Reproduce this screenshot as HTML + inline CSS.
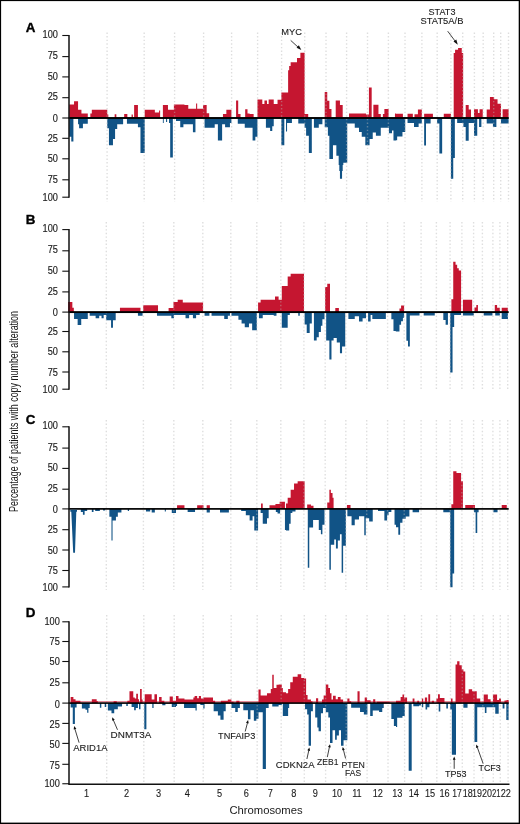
<!DOCTYPE html>
<html><head><meta charset="utf-8"><style>
html,body{margin:0;padding:0;background:#fff;}
body{width:520px;height:824px;overflow:hidden;}
svg{display:block;will-change:transform;}
text{font-family:"Liberation Sans",sans-serif;fill:#1a1a1a;}
.tk{font-size:10px;text-anchor:end;stroke:#1a1a1a;stroke-width:0.15px;}
.pl{font-size:13.4px;font-weight:bold;fill:#000;stroke:#000;stroke-width:0.35px;}
.g{stroke:#b8b8b8;stroke-width:1.4;stroke-dasharray:1.4 2.2;opacity:0.45;}
.ann{font-size:9.6px;stroke:#1a1a1a;stroke-width:0.1px;}
.cl{font-size:10px;text-anchor:middle;stroke:#1a1a1a;stroke-width:0.1px;}
</style></head><body>
<svg width="520" height="824" viewBox="0 0 520 824">
<rect x="0" y="0" width="520" height="824" fill="#fff"/>
<path fill="#c51630" d="M69.17,118L69.17,104.47L74.04,104.47L74.04,101.29L78.06,101.29L78.06,109.75L81.44,109.75L81.44,113.56L87.79,113.56L87.79,118Z M90.33,118L90.33,113.56L91.81,113.56L91.81,109.75L107.25,109.75L107.25,114.62L108.31,114.62L108.31,118Z M114.66,118L114.66,114.2L116.35,114.2L116.35,118Z M124.18,118L124.18,113.99L127.35,113.99L127.35,118Z M131.58,118L131.58,114.62L132.85,114.62L132.85,118Z M134.12,118L134.12,105.1L137.93,105.1L137.93,118Z M144.7,118L144.7,109.75L154.85,109.75L154.85,112.5L159.08,112.5L159.08,110.39L160.14,110.39L160.14,118Z M162.89,118L162.89,105.1L167.97,105.1L167.97,109.75L173.89,109.75L173.89,104.47L176.01,104.47L176.01,104.47L184.46,104.47L184.46,105.1L188.27,105.1L188.27,108.7L196.1,108.7L196.1,103.62L197.16,103.62L197.16,108.7L203.08,108.7L203.08,105.1L206.67,105.1L206.67,113.14L209.21,113.14L209.21,118Z M222.96,118L222.96,113.99L226.35,113.99L226.35,109.75L231.43,109.75L231.43,118Z M236.08,118L236.08,100.45L238.2,100.45L238.2,113.99L240.52,113.99L240.52,118Z M245.18,118L245.18,109.33L247.5,109.33L247.5,113.56L249.62,113.56L249.62,113.99L253.64,113.99L253.64,118Z M257.45,118L257.45,99.39L262.31,99.39L262.31,104.04L264.43,104.04L264.43,100.45L266.97,100.45L266.97,104.04L268.66,104.04L268.66,99.39L273.74,99.39L273.74,104.04L277.54,104.04L277.54,99.81L281.35,99.81L281.35,92.41L286.01,92.41L286.01,92.41L288.12,92.41L288.12,70.19L289.17,70.19L289.17,65.96L290.65,65.96L290.65,62.16L297,62.16L297,57.92L300.39,57.92L300.39,52.85L304.62,52.85L304.62,113.99L308.21,113.99L308.21,118Z M324.71,118L324.71,91.98L327.25,91.98L327.25,100.87L329.37,100.87L329.37,108.91L331.48,108.91L331.48,118Z M335.71,118L335.71,100.45L339.95,100.45L339.95,105.1L342.7,105.1L342.7,118Z M349.04,118L349.04,113.56L365.97,113.56L365.97,114.62L368.93,114.62L368.93,87.54L371.68,87.54L371.68,118Z M373.37,118L373.37,104.68L378.45,104.68L378.45,113.99L380.77,113.99L380.77,118Z M382.89,118L382.89,113.99L384.37,113.99L384.37,108.91L388.6,108.91L388.6,118Z M394.95,118L394.95,113.56L396.01,113.56L396.01,113.78L402.92,113.78L402.92,118Z M407.54,118L407.54,113.78L412.85,113.78L412.85,118Z M414.46,118L414.46,114.24L417.92,114.24L417.92,109.62L421.85,109.62L421.85,118Z M424.16,118L424.16,113.78L432.93,113.78L432.93,118Z M443.77,118L443.77,113.78L450.93,113.78L450.93,118Z M453.7,118L453.7,53.08L455.08,53.08L455.08,49.85L458.08,49.85L458.08,48L461.77,48L461.77,53.08L463.16,53.08L463.16,118Z M465.7,118L465.7,105.01L468.7,105.01L468.7,109.62L471.01,109.62L471.01,118Z M474.01,118L474.01,109.16L477.93,109.16L477.93,113.08L479.54,113.08L479.54,109.16L482.78,109.16L482.78,118Z M486.7,118L486.7,109.62L489.93,109.62L489.93,96.93L494.08,96.93L494.08,99.24L497.55,99.24L497.55,103.85L501.01,103.85L501.01,118Z M502.62,118L502.62,109.16L508.62,109.16L508.62,118Z"/>
<path fill="#115386" d="M69.17,118L69.17,136.83L71.29,136.83L71.29,141.49L73.4,141.49L73.4,118Z M78.06,118L78.06,124.14L79.12,124.14L79.12,128.37L82.92,128.37L82.92,123.72L87.79,123.72L87.79,118Z M107.25,118L107.25,128.37L108.94,128.37L108.94,145.3L112.96,145.3L112.96,138.95L115.08,138.95L115.08,129.01L117.2,129.01L117.2,124.14L123.12,124.14L123.12,118Z M126.93,118L126.93,123.72L137.93,123.72L137.93,127.31L140.47,127.31L140.47,153.12L144.7,153.12L144.7,118Z M162.89,118L162.89,123.08L163.74,123.08L163.74,118Z M166.06,118L166.06,122.02L167.12,122.02L167.12,118Z M169.03,118L169.03,123.08L170.19,123.08L170.19,157.57L172.83,157.57L172.83,118Z M176,118L176,120.97L180.23,120.97L180.23,127.31L183.4,127.31L183.4,124.14L192.92,124.14L192.92,132.18L195.46,132.18L195.46,118Z M204.56,118L204.56,127.74L214.71,127.74L214.71,124.14L217.89,124.14L217.89,140.43L222.12,140.43L222.12,124.14L225.08,124.14L225.08,127.31L229.95,127.31L229.95,123.08L231.43,123.08L231.43,118Z M237.77,118L237.77,123.72L244.75,123.72L244.75,127.74L252.58,127.74L252.58,140.43L255.33,140.43L255.33,136.83L257.45,136.83L257.45,118Z M265.91,118L265.91,127.74L270.14,127.74L270.14,131.12L272.26,131.12L272.26,126.26L273.74,126.26L273.74,118Z M281.35,118L281.35,145.3L284.31,145.3L284.31,118Z M286,118L286,131.54L287.06,131.54L287.06,123.08L291.92,123.08L291.92,118Z M298.27,118L298.27,123.51L304.62,123.51L304.62,127.74L306.1,127.74L306.1,135.78L308.85,135.78L308.85,153.12L311.81,153.12L311.81,118Z M313.92,118L313.92,127.74L318.79,127.74L318.79,124.14L322.39,124.14L322.39,118Z M324.71,118L324.71,127.31L327.89,127.31L327.89,135.78L329.37,135.78L329.37,159.05L332.96,159.05L332.96,145.3L336.35,145.3L336.35,155.87L338.68,155.87L338.68,164.97L339.31,164.97L339.31,170.89L339.95,170.89L339.95,178.72L342.06,178.72L342.06,170.89L342.7,170.89L342.7,164.97L343.33,164.97L343.33,162.85L347.24,162.85L347.24,123.51L354.75,123.51L354.75,127.74L358.98,127.74L358.98,131.97L361.74,131.97L361.74,136.83L365.33,136.83L365.33,145.3L369.56,145.3L369.56,138.95L372.74,138.95L372.74,132.6L375.91,132.6L375.91,135.78L380.77,135.78L380.77,127.74L388.92,127.74L388.92,133.24L391.99,133.24L391.99,130.49L393.47,130.49L393.47,140.43L396.01,140.43L396.01,140.32L397.15,140.32L397.15,136.62L402.46,136.62L402.46,132.01L405.23,132.01L405.23,118Z M407.54,118L407.54,123.01L414,123.01L414,126.93L418.62,126.93L418.62,123.47L421.85,123.47L421.85,118Z M424.16,118L424.16,145.39L426,145.39L426,123.47L430.62,123.47L430.62,118Z M437.08,118L437.08,123.47L439.39,123.47L439.39,153.47L442.16,153.47L442.16,118Z M450.93,118L450.93,178.86L453.24,178.86L453.24,158.09L454.85,158.09L454.85,118Z M457.16,118L457.16,123.01L463.39,123.01L463.39,126.93L465.7,126.93L465.7,140.78L468.7,140.78L468.7,123.01L474.01,123.01L474.01,135.7L477.24,135.7L477.24,118Z M479.08,118L479.08,126.93L481.39,126.93L481.39,118Z M486.7,118L486.7,123.47L492.93,123.47L492.93,126.93L496.39,126.93L496.39,118Z M501.01,118L501.01,123.47L508.62,123.47L508.62,118Z"/>
<line x1="107.1" y1="32.5" x2="107.1" y2="202" class="g"/>
<line x1="144.2" y1="32.5" x2="144.2" y2="202" class="g"/>
<line x1="174.6" y1="32.5" x2="174.6" y2="202" class="g"/>
<line x1="203.6" y1="32.5" x2="203.6" y2="202" class="g"/>
<line x1="231.6" y1="32.5" x2="231.6" y2="202" class="g"/>
<line x1="257.6" y1="32.5" x2="257.6" y2="202" class="g"/>
<line x1="281.6" y1="32.5" x2="281.6" y2="202" class="g"/>
<line x1="304.7" y1="32.5" x2="304.7" y2="202" class="g"/>
<line x1="326" y1="32.5" x2="326" y2="202" class="g"/>
<line x1="346.6" y1="32.5" x2="346.6" y2="202" class="g"/>
<line x1="367.5" y1="32.5" x2="367.5" y2="202" class="g"/>
<line x1="388.4" y1="32.5" x2="388.4" y2="202" class="g"/>
<line x1="405" y1="32.5" x2="405" y2="202" class="g"/>
<line x1="421.9" y1="32.5" x2="421.9" y2="202" class="g"/>
<line x1="437.2" y1="32.5" x2="437.2" y2="202" class="g"/>
<line x1="450.9" y1="32.5" x2="450.9" y2="202" class="g"/>
<line x1="462.7" y1="32.5" x2="462.7" y2="202" class="g"/>
<line x1="474.4" y1="32.5" x2="474.4" y2="202" class="g"/>
<line x1="483.2" y1="32.5" x2="483.2" y2="202" class="g"/>
<line x1="493.7" y1="32.5" x2="493.7" y2="202" class="g"/>
<line x1="500.7" y1="32.5" x2="500.7" y2="202" class="g"/>
<line x1="508.5" y1="32.5" x2="508.5" y2="202" class="g"/>
<rect x="68.5" y="117.05" width="440.2" height="1.9" fill="#000"/>
<line x1="69.0" y1="35" x2="69.0" y2="197.7" stroke="#111" stroke-width="1.5"/>
<line x1="62.3" y1="35.5" x2="69" y2="35.5" stroke="#111" stroke-width="1.1"/>
<text transform="translate(57.9 38.1) scale(0.92 1)" class="tk">100</text>
<line x1="62.3" y1="56.6" x2="69" y2="56.6" stroke="#111" stroke-width="1.1"/>
<text transform="translate(57.9 59.2) scale(0.92 1)" class="tk">75</text>
<line x1="62.3" y1="76.9" x2="69" y2="76.9" stroke="#111" stroke-width="1.1"/>
<text transform="translate(57.9 79.5) scale(0.92 1)" class="tk">50</text>
<line x1="62.3" y1="97.7" x2="69" y2="97.7" stroke="#111" stroke-width="1.1"/>
<text transform="translate(57.9 100.3) scale(0.92 1)" class="tk">25</text>
<line x1="62.3" y1="118" x2="69" y2="118" stroke="#111" stroke-width="1.1"/>
<text transform="translate(57.9 121.6) scale(0.92 1)" class="tk">0</text>
<line x1="62.3" y1="138.3" x2="69" y2="138.3" stroke="#111" stroke-width="1.1"/>
<text transform="translate(57.9 141.9) scale(0.92 1)" class="tk">25</text>
<line x1="62.3" y1="158.8" x2="69" y2="158.8" stroke="#111" stroke-width="1.1"/>
<text transform="translate(57.9 162.4) scale(0.92 1)" class="tk">50</text>
<line x1="62.3" y1="179.8" x2="69" y2="179.8" stroke="#111" stroke-width="1.1"/>
<text transform="translate(57.9 183.4) scale(0.92 1)" class="tk">75</text>
<line x1="62.3" y1="197.2" x2="69" y2="197.2" stroke="#111" stroke-width="1.1"/>
<text transform="translate(57.9 200.8) scale(0.92 1)" class="tk">100</text>
<text x="25.8" y="32" class="pl">A</text>
<path fill="#c51630" d="M68.12,312.1L68.12,301.97L72.35,301.97L72.35,307.68L73.83,307.68L73.83,312.1Z M119.95,312.1L119.95,307.68L140.47,307.68L140.47,312.1Z M143.22,312.1L143.22,305.14L158.02,305.14L158.02,312.1Z M168.6,312.1L168.6,308.1L173.47,308.1L173.47,301.97L176.01,301.97L176.01,301.97L177.69,301.97L177.69,299.64L182.77,299.64L182.77,302.39L203.08,302.39L203.08,312.1Z M258.08,312.1L258.08,302.39L260.62,302.39L260.62,299.64L275.01,299.64L275.01,296.47L278.6,296.47L278.6,299.64L281.78,299.64L281.78,286.1L286.01,286.1L286.01,286.1L287.69,286.1L287.69,276.58L290.65,276.58L290.65,273.83L303.98,273.83L303.98,312.1Z M325.14,312.1L325.14,286.95L327.25,286.95L327.25,283.77L330,283.77L330,312.1Z M335.29,312.1L335.29,308.1L338.89,308.1L338.89,312.1Z M399.46,312.1L399.46,308.55L401.08,308.55L401.08,305.54L404.08,305.54L404.08,312.1Z M451.39,312.1L451.39,299.31L453.24,299.31L453.24,261.7L455.54,261.7L455.54,264.7L457.16,264.7L457.16,268.16L458.77,268.16L458.77,270.47L461.08,270.47L461.08,312.1Z M462.93,312.1L462.93,299.78L472.16,299.78L472.16,312.1Z M474.47,312.1L474.47,307.39L476.31,307.39L476.31,305.08L477.93,305.08L477.93,312.1Z M494.78,312.1L494.78,305.08L497.08,305.08L497.08,307.85L499.85,307.85L499.85,312.1Z M501.7,312.1L501.7,307.85L507.93,307.85L507.93,312.1Z"/>
<path fill="#115386" d="M74.04,312.1L74.04,318.89L77.64,318.89L77.64,325.03L81.23,325.03L81.23,318.89L87.79,318.89L87.79,312.1Z M89.69,312.1L89.69,315.72L95.62,315.72L95.62,318.26L99.21,318.26L99.21,315.72L101.54,315.72L101.54,318.26L103.66,318.26L103.66,315.08L106.19,315.08L106.19,320.37L111.06,320.37L111.06,327.78L112.96,327.78L112.96,320.37L115.71,320.37L115.71,312.1Z M137.93,312.1L137.93,315.72L142.58,315.72L142.58,312.1Z M156.97,312.1L156.97,315.72L171.35,315.72L171.35,318.26L173.89,318.26L173.89,315.08L176.01,315.08L176.01,315.08L185.52,315.08L185.52,318.26L189.12,318.26L189.12,315.08L192.92,315.08L192.92,318.26L196.1,318.26L196.1,315.08L199.69,315.08L199.69,312.1Z M204.56,312.1L204.56,315.72L209.43,315.72L209.43,312.1Z M211.54,312.1L211.54,315.72L224.23,315.72L224.23,318.89L227.83,318.89L227.83,315.72L229.95,315.72L229.95,312.1Z M231.43,312.1L231.43,315.72L238.41,315.72L238.41,319.74L241.58,319.74L241.58,323.54L244.75,323.54L244.75,327.35L248.98,327.35L248.98,323.54L252.16,323.54L252.16,330.31L256.81,330.31L256.81,312.1Z M258.93,312.1L258.93,318.26L262.74,318.26L262.74,315.08L273.74,315.08L273.74,315.72L276.49,315.72L276.49,312.1Z M281.78,312.1L281.78,327.78L286.01,327.78L286.01,327.78L287.69,327.78L287.69,315.08L289.81,315.08L289.81,312.1Z M298.27,312.1L298.27,315.72L299.75,315.72L299.75,312.1Z M304.62,312.1L304.62,324.6L306.73,324.6L306.73,333.06L309.69,333.06L309.69,323.54L311.81,323.54L311.81,312.1Z M313.92,312.1L313.92,340.47L316.67,340.47L316.67,337.3L318.79,337.3L318.79,332.01L320.91,332.01L320.91,325.66L322.39,325.66L322.39,319.31L324.5,319.31L324.5,312.1Z M326.19,312.1L326.19,340.47L329.37,340.47L329.37,359.51L331.48,359.51L331.48,340.47L333.6,340.47L333.6,337.93L336.77,337.93L336.77,342.58L339.95,342.58L339.95,353.16L342.06,353.16L342.06,346.39L345.23,346.39L345.23,312.1Z M348.41,312.1L348.41,318.89L354.75,318.89L354.75,316.14L358.98,316.14L358.98,321.43L362.58,321.43L362.58,318.26L365.97,318.26L365.97,312.1Z M368.08,312.1L368.08,321.43L370.62,321.43L370.62,315.08L372.31,315.08L372.31,318.89L385.85,318.89L385.85,312.1Z M391.35,312.1L391.35,319.31L393.47,319.31L393.47,330.95L395.79,330.95L395.79,331.62L399.46,331.62L399.46,324.7L401.08,324.7L401.08,321.24L402.92,321.24L402.92,317.78L404.08,317.78L404.08,312.1Z M406.39,312.1L406.39,340.86L408,340.86L408,346.62L409.85,346.62L409.85,315.47L419.54,315.47L419.54,312.1Z M423.69,312.1L423.69,315.47L434.77,315.47L434.77,312.1Z M443.31,312.1L443.31,320.08L445.62,320.08L445.62,324.7L447.93,324.7L447.93,312.1Z M450.23,312.1L450.23,372.47L452.54,372.47L452.54,327.01L454.16,327.01L454.16,315.01L461.08,315.01L461.08,312.1Z M462.93,312.1L462.93,315.47L473.78,315.47L473.78,312.1Z M483.7,312.1L483.7,315.47L492.47,315.47L492.47,312.1Z M495.24,312.1L495.24,315.47L499.85,315.47L499.85,312.1Z M501.7,312.1L501.7,318.93L507.93,318.93L507.93,312.1Z"/>
<line x1="106.3" y1="222" x2="106.3" y2="391" class="g"/>
<line x1="143.4" y1="222" x2="143.4" y2="391" class="g"/>
<line x1="173.8" y1="222" x2="173.8" y2="391" class="g"/>
<line x1="202.8" y1="222" x2="202.8" y2="391" class="g"/>
<line x1="230.8" y1="222" x2="230.8" y2="391" class="g"/>
<line x1="256.8" y1="222" x2="256.8" y2="391" class="g"/>
<line x1="280.8" y1="222" x2="280.8" y2="391" class="g"/>
<line x1="303.9" y1="222" x2="303.9" y2="391" class="g"/>
<line x1="325.2" y1="222" x2="325.2" y2="391" class="g"/>
<line x1="345.8" y1="222" x2="345.8" y2="391" class="g"/>
<line x1="366.7" y1="222" x2="366.7" y2="391" class="g"/>
<line x1="387.6" y1="222" x2="387.6" y2="391" class="g"/>
<line x1="404.2" y1="222" x2="404.2" y2="391" class="g"/>
<line x1="421.1" y1="222" x2="421.1" y2="391" class="g"/>
<line x1="436.4" y1="222" x2="436.4" y2="391" class="g"/>
<line x1="450.1" y1="222" x2="450.1" y2="391" class="g"/>
<line x1="461.9" y1="222" x2="461.9" y2="391" class="g"/>
<line x1="473.6" y1="222" x2="473.6" y2="391" class="g"/>
<line x1="482.4" y1="222" x2="482.4" y2="391" class="g"/>
<line x1="492.9" y1="222" x2="492.9" y2="391" class="g"/>
<line x1="499.9" y1="222" x2="499.9" y2="391" class="g"/>
<line x1="507.7" y1="222" x2="507.7" y2="391" class="g"/>
<rect x="68.5" y="311.15" width="440.2" height="1.9" fill="#000"/>
<line x1="69.0" y1="229.1" x2="69.0" y2="389.7" stroke="#111" stroke-width="1.5"/>
<line x1="62.3" y1="229.6" x2="69" y2="229.6" stroke="#111" stroke-width="1.1"/>
<text transform="translate(57.9 232.2) scale(0.92 1)" class="tk">100</text>
<line x1="62.3" y1="250.8" x2="69" y2="250.8" stroke="#111" stroke-width="1.1"/>
<text transform="translate(57.9 253.4) scale(0.92 1)" class="tk">75</text>
<line x1="62.3" y1="271.2" x2="69" y2="271.2" stroke="#111" stroke-width="1.1"/>
<text transform="translate(57.9 273.8) scale(0.92 1)" class="tk">50</text>
<line x1="62.3" y1="291.9" x2="69" y2="291.9" stroke="#111" stroke-width="1.1"/>
<text transform="translate(57.9 294.5) scale(0.92 1)" class="tk">25</text>
<line x1="62.3" y1="312.1" x2="69" y2="312.1" stroke="#111" stroke-width="1.1"/>
<text transform="translate(57.9 315.7) scale(0.92 1)" class="tk">0</text>
<line x1="62.3" y1="331.5" x2="69" y2="331.5" stroke="#111" stroke-width="1.1"/>
<text transform="translate(57.9 335.1) scale(0.92 1)" class="tk">25</text>
<line x1="62.3" y1="351.8" x2="69" y2="351.8" stroke="#111" stroke-width="1.1"/>
<text transform="translate(57.9 355.4) scale(0.92 1)" class="tk">50</text>
<line x1="62.3" y1="372" x2="69" y2="372" stroke="#111" stroke-width="1.1"/>
<text transform="translate(57.9 375.6) scale(0.92 1)" class="tk">75</text>
<line x1="62.3" y1="389.2" x2="69" y2="389.2" stroke="#111" stroke-width="1.1"/>
<text transform="translate(57.9 392.8) scale(0.92 1)" class="tk">100</text>
<text x="25.8" y="224" class="pl">B</text>
<path fill="#c51630" d="M177.06,508.9L177.06,505.25L184.46,505.25L184.46,508.9Z M197.16,508.9L197.16,505.25L203.5,505.25L203.5,508.9Z M206.67,508.9L206.67,505.25L209.85,505.25L209.85,508.9Z M261.04,508.9L261.04,503.56L262.74,503.56L262.74,508.9Z M269.51,508.9L269.51,505.25L275.43,505.25L275.43,503.99L279.66,503.99L279.66,501.87L284.95,501.87L284.95,508.9Z M286,508.9L286,503.56L287.69,503.56L287.69,497.64L290.65,497.64L290.65,489.81L294.04,489.81L294.04,483.47L297.64,483.47L297.64,481.35L304.62,481.35L304.62,508.9Z M307.16,508.9L307.16,504.62L310.96,504.62L310.96,505.68L313.5,505.68L313.5,508.9Z M327.25,508.9L327.25,502.5L329.37,502.5L329.37,489.81L330.85,489.81L330.85,492.98L332.54,492.98L332.54,497.85L333.6,497.85L333.6,508.9Z M346.93,508.9L346.93,505.04L350.52,505.04L350.52,508.9Z M451.39,508.9L451.39,504.24L453.24,504.24L453.24,471.23L456.47,471.23L456.47,473.08L461.08,473.08L461.08,481.16L462.93,481.16L462.93,508.9Z M465.24,508.9L465.24,504.93L474.93,504.93L474.93,508.9Z M501.7,508.9L501.7,504.93L506.78,504.93L506.78,508.9Z"/>
<path fill="#115386" d="M80.81,508.9L80.81,512.02L82.92,512.02L82.92,514.77L84.62,514.77L84.62,510.97L87.16,510.97L87.16,508.9Z M91.81,508.9L91.81,512.02L93.5,512.02L93.5,508.9Z M95.19,508.9L95.19,510.97L99.85,510.97L99.85,508.9Z M103.02,508.9L103.02,510.54L105.14,510.54L105.14,508.9Z M109.37,508.9L109.37,516.68L111.48,516.68L111.48,540.58L112.54,540.58L112.54,520.49L115.93,520.49L115.93,516.68L117.83,516.68L117.83,512.45L121.43,512.45L121.43,508.9Z M127.77,508.9L127.77,510.97L129.04,510.97L129.04,508.9Z M145.97,508.9L145.97,511.6L150.2,511.6L150.2,508.9Z M151.68,508.9L151.68,512.45L154.85,512.45L154.85,508.9Z M164.79,508.9L164.79,511.39L165.85,511.39L165.85,508.9Z M171.78,508.9L171.78,513.08L176.01,513.08L176.01,508.9Z M187.64,508.9L187.64,512.02L195.04,512.02L195.04,508.9Z M206.67,508.9L206.67,512.45L209.85,512.45L209.85,508.9Z M220,508.9L220,512.45L228.89,512.45L228.89,508.9Z M241.16,508.9L241.16,510.97L245.81,510.97L245.81,515.2L249.62,515.2L249.62,520.49L252.58,520.49L252.58,516.26L254.27,516.26L254.27,530.43L258.08,530.43L258.08,508.9Z M260.62,508.9L260.62,513.08L262.74,513.08L262.74,523.66L266.97,523.66L266.97,518.37L268.66,518.37L268.66,508.9Z M275.85,508.9L275.85,512.02L277.54,512.02L277.54,513.51L280.08,513.51L280.08,508.9Z M284.95,508.9L284.95,530.01L286.01,530.01L286.01,530.43L289.17,530.43L289.17,523.66L290.65,523.66L290.65,513.08L292.35,513.08L292.35,511.39L295.52,511.39L295.52,508.9Z M307.79,508.9L307.79,567.66L309.27,567.66L309.27,527.47L313.08,527.47L313.08,520.06L318.79,520.06L318.79,530.01L320.91,530.01L320.91,534.24L322.39,534.24L322.39,524.72L324.5,524.72L324.5,508.9Z M329.37,508.9L329.37,569.78L330.85,569.78L330.85,544.81L334.23,544.81L334.23,539.53L335.93,539.53L335.93,548.62L337.83,548.62L337.83,540.58L339.95,540.58L339.95,534.24L341.64,534.24L341.64,572.74L343.12,572.74L343.12,545.87L345.87,545.87L345.87,508.9Z M347.35,508.9L347.35,516.26L351.58,516.26L351.58,525.35L354.75,525.35L354.75,519.43L358.98,519.43L358.98,516.26L364.27,516.26L364.27,535.3L365.75,535.3L365.75,518.37L369.14,518.37L369.14,521.54L372.74,521.54L372.74,508.9Z M378.02,508.9L378.02,510.97L384.37,510.97L384.37,520.49L387.12,520.49L387.12,515.2L388.6,515.2L388.6,512.02L391.35,512.02L391.35,508.9Z M394.53,508.9L394.53,524.72L396.01,524.72L396.01,527.32L398.31,527.32L398.31,534.7L400.15,534.7L400.15,522.7L402.46,522.7L402.46,518.78L405.69,518.78L405.69,516.47L409.39,516.47L409.39,508.9Z M412.62,508.9L412.62,512.31L419.08,512.31L419.08,508.9Z M443.31,508.9L443.31,512.31L450.23,512.31L450.23,587.32L452.54,587.32L452.54,573.47L454.16,573.47L454.16,508.9Z M474.01,508.9L474.01,512.31L475.62,512.31L475.62,533.09L477.24,533.09L477.24,512.31L478.62,512.31L478.62,508.9Z M493.39,508.9L493.39,512.31L497.55,512.31L497.55,508.9Z"/>
<line x1="106.3" y1="420" x2="106.3" y2="590" class="g"/>
<line x1="143.4" y1="420" x2="143.4" y2="590" class="g"/>
<line x1="173.8" y1="420" x2="173.8" y2="590" class="g"/>
<line x1="202.8" y1="420" x2="202.8" y2="590" class="g"/>
<line x1="230.8" y1="420" x2="230.8" y2="590" class="g"/>
<line x1="256.8" y1="420" x2="256.8" y2="590" class="g"/>
<line x1="280.8" y1="420" x2="280.8" y2="590" class="g"/>
<line x1="303.9" y1="420" x2="303.9" y2="590" class="g"/>
<line x1="325.2" y1="420" x2="325.2" y2="590" class="g"/>
<line x1="345.8" y1="420" x2="345.8" y2="590" class="g"/>
<line x1="366.7" y1="420" x2="366.7" y2="590" class="g"/>
<line x1="387.6" y1="420" x2="387.6" y2="590" class="g"/>
<line x1="404.2" y1="420" x2="404.2" y2="590" class="g"/>
<line x1="421.1" y1="420" x2="421.1" y2="590" class="g"/>
<line x1="436.4" y1="420" x2="436.4" y2="590" class="g"/>
<line x1="450.1" y1="420" x2="450.1" y2="590" class="g"/>
<line x1="461.9" y1="420" x2="461.9" y2="590" class="g"/>
<line x1="473.6" y1="420" x2="473.6" y2="590" class="g"/>
<line x1="482.4" y1="420" x2="482.4" y2="590" class="g"/>
<line x1="492.9" y1="420" x2="492.9" y2="590" class="g"/>
<line x1="499.9" y1="420" x2="499.9" y2="590" class="g"/>
<line x1="507.7" y1="420" x2="507.7" y2="590" class="g"/>
<rect x="68.5" y="508.05" width="440.2" height="1.7" fill="#000"/>
<line x1="69.0" y1="426.3" x2="69.0" y2="587.4" stroke="#111" stroke-width="1.5"/>
<line x1="62.3" y1="426.8" x2="69" y2="426.8" stroke="#111" stroke-width="1.1"/>
<text transform="translate(57.9 429.4) scale(0.92 1)" class="tk">100</text>
<line x1="62.3" y1="448.1" x2="69" y2="448.1" stroke="#111" stroke-width="1.1"/>
<text transform="translate(57.9 450.7) scale(0.92 1)" class="tk">75</text>
<line x1="62.3" y1="468.4" x2="69" y2="468.4" stroke="#111" stroke-width="1.1"/>
<text transform="translate(57.9 471) scale(0.92 1)" class="tk">50</text>
<line x1="62.3" y1="489.2" x2="69" y2="489.2" stroke="#111" stroke-width="1.1"/>
<text transform="translate(57.9 491.8) scale(0.92 1)" class="tk">25</text>
<line x1="62.3" y1="508.9" x2="69" y2="508.9" stroke="#111" stroke-width="1.1"/>
<text transform="translate(57.9 512.5) scale(0.92 1)" class="tk">0</text>
<line x1="62.3" y1="529.7" x2="69" y2="529.7" stroke="#111" stroke-width="1.1"/>
<text transform="translate(57.9 533.3) scale(0.92 1)" class="tk">25</text>
<line x1="62.3" y1="550" x2="69" y2="550" stroke="#111" stroke-width="1.1"/>
<text transform="translate(57.9 553.6) scale(0.92 1)" class="tk">50</text>
<line x1="62.3" y1="570.5" x2="69" y2="570.5" stroke="#111" stroke-width="1.1"/>
<text transform="translate(57.9 574.1) scale(0.92 1)" class="tk">75</text>
<line x1="62.3" y1="586.9" x2="69" y2="586.9" stroke="#111" stroke-width="1.1"/>
<text transform="translate(57.9 590.5) scale(0.92 1)" class="tk">100</text>
<text x="25.8" y="424" class="pl">C</text>
<path fill="#c51630" d="M70.65,703.1L70.65,697.08L73.4,697.08L73.4,699.2L75.52,699.2L75.52,700.68L80.39,700.68L80.39,703.1Z M91.81,703.1L91.81,699.2L96.67,699.2L96.67,701.1L97.73,701.1L97.73,703.1Z M113.6,703.1L113.6,701.31L116.77,701.31L116.77,703.1Z M127.35,703.1L127.35,700.68L129.47,700.68L129.47,691.16L133.27,691.16L133.27,697.5L134.75,697.5L134.75,698.56L136.23,698.56L136.23,693.7L137.93,693.7L137.93,699.2L138.98,699.2L138.98,703.1Z M140.04,703.1L140.04,689.04L141.74,689.04L141.74,699.62L142.58,699.62L142.58,703.1Z M144.7,703.1L144.7,694.33L151.68,694.33L151.68,699.62L154.43,699.62L154.43,694.33L156.97,694.33L156.97,703.1Z M159.08,703.1L159.08,697.08L161.62,697.08L161.62,700.68L164.37,700.68L164.37,703.1Z M169.66,703.1L169.66,696.45L172.83,696.45L172.83,700.68L176.01,700.68L176.01,696.02L178.54,696.02L178.54,698.56L184.46,698.56L184.46,699.62L193.35,699.62L193.35,697.5L194.62,697.5L194.62,696.02L197.16,696.02L197.16,698.14L198.85,698.14L198.85,696.02L200.96,696.02L200.96,698.56L203.29,698.56L203.29,697.5L213.02,697.5L213.02,700.68L215.14,700.68L215.14,703.1Z M220.85,703.1L220.85,700.68L227.83,700.68L227.83,699.62L231.43,699.62L231.43,701.74L233.54,701.74L233.54,703.1Z M236.29,703.1L236.29,700.68L239.47,700.68L239.47,703.1Z M258.5,703.1L258.5,689.47L260.62,689.47L260.62,695.39L266.97,695.39L266.97,693.27L270.77,693.27L270.77,689.04L272.26,689.04L272.26,674.87L273.74,674.87L273.74,687.98L276.49,687.98L276.49,684.81L278.6,684.81L278.6,684.39L281.78,684.39L281.78,687.98L282.83,687.98L282.83,692.22L286.01,692.22L286.01,693.27L288.12,693.27L288.12,689.04L290.23,689.04L290.23,682.27L292.77,682.27L292.77,676.77L297.64,676.77L297.64,674.23L301.23,674.23L301.23,678.04L303.98,678.04L303.98,678.47L306.1,678.47L306.1,694.97L307.58,694.97L307.58,699.62L310.96,699.62L310.96,701.31L312.44,701.31L312.44,703.1Z M316.04,703.1L316.04,698.14L318.16,698.14L318.16,703.1Z M321.96,703.1L321.96,699.62L323.66,699.62L323.66,695.39L325.77,695.39L325.77,684.39L328.31,684.39L328.31,687.98L330,687.98L330,693.27L331.48,693.27L331.48,699.62L332.96,699.62L332.96,695.81L335.71,695.81L335.71,699.2L337.83,699.2L337.83,697.08L340.58,697.08L340.58,699.62L343.12,699.62L343.12,703.1Z M347.35,703.1L347.35,698.56L349.47,698.56L349.47,701.31L351.16,701.31L351.16,703.1Z M357.5,703.1L357.5,691.16L359.62,691.16L359.62,703.1Z M364.7,703.1L364.7,697.5L367.02,697.5L367.02,700.25L370.62,700.25L370.62,703.1Z M373.16,703.1L373.16,699.2L375.27,699.2L375.27,703.1Z M376.97,703.1L376.97,701.74L389.66,701.74L389.66,703.1Z M396,703.1L396,700.85L400.62,700.85L400.62,696.93L402.46,696.93L402.46,694.62L404.08,694.62L404.08,697.62L407.08,697.62L407.08,703.1Z M412.62,703.1L412.62,698.54L414.46,698.54L414.46,703.1Z M417.23,703.1L417.23,700.85L419.08,700.85L419.08,703.1Z M421.85,703.1L421.85,698.54L423.23,698.54L423.23,703.1Z M424.85,703.1L424.85,697.62L427.16,697.62L427.16,703.1Z M428.31,703.1L428.31,694.16L430.16,694.16L430.16,703.1Z M431.77,703.1L431.77,700.85L434.08,700.85L434.08,703.1Z M436.39,703.1L436.39,698.54L438,698.54L438,694.16L439.85,694.16L439.85,698.08L444.47,698.08L444.47,703.1Z M450.93,703.1L450.93,698.54L452.54,698.54L452.54,703.1Z M455.54,703.1L455.54,664.62L457.16,664.62L457.16,661.16L459.47,661.16L459.47,665.31L461.77,665.31L461.77,669.23L463.39,669.23L463.39,671.54L465.24,671.54L465.24,693.47L468.7,693.47L468.7,689.31L472.16,689.31L472.16,691.16L476.78,691.16L476.78,698.54L480.24,698.54L480.24,703.1Z M483.7,703.1L483.7,694.62L487.85,694.62L487.85,699.24L490.62,699.24L490.62,703.1Z M492.93,703.1L492.93,694.62L497.08,694.62L497.08,699.93L499.05,699.93L499.05,698.54L501.01,698.54L501.01,703.1Z M504.47,703.1L504.47,700.39L506.55,700.39L506.55,699.93L508.62,699.93L508.62,703.1Z"/>
<path fill="#115386" d="M70.65,703.1L70.65,707.45L72.77,707.45L72.77,723.95L74.89,723.95L74.89,707.45L76.58,707.45L76.58,703.1Z M81.87,703.1L81.87,708.51L85.46,708.51L85.46,709.77L87.16,709.77L87.16,712.74L88.42,712.74L88.42,708.08L89.69,708.08L89.69,703.1Z M99.85,703.1L99.85,707.66L101.33,707.66L101.33,703.1Z M104.71,703.1L104.71,707.02L106.19,707.02L106.19,703.1Z M107.89,703.1L107.89,710.62L111.48,710.62L111.48,713.37L114.23,713.37L114.23,709.14L117.83,709.14L117.83,706.39L122.06,706.39L122.06,703.1Z M126.29,703.1L126.29,705.97L127.77,705.97L127.77,703.1Z M131.58,703.1L131.58,707.02L134.12,707.02L134.12,710.2L135.81,710.2L135.81,708.08L137.93,708.08L137.93,703.1Z M138.98,703.1L138.98,709.14L140.47,709.14L140.47,703.1Z M144.27,703.1L144.27,729.24L146.39,729.24L146.39,703.1Z M152.31,703.1L152.31,708.08L153.58,708.08L153.58,703.1Z M162.26,703.1L162.26,705.33L165.43,705.33L165.43,703.1Z M171.78,703.1L171.78,707.02L176.01,707.02L176.01,705.97L177.06,705.97L177.06,703.1Z M184.04,703.1L184.04,708.08L195.46,708.08L195.46,710.62L196.73,710.62L196.73,703.1Z M200.33,703.1L200.33,704.91L203.29,704.91L203.29,708.51L204.56,708.51L204.56,703.1Z M213.66,703.1L213.66,711.26L217.89,711.26L217.89,715.49L220.43,715.49L220.43,719.72L223.6,719.72L223.6,711.26L225.71,711.26L225.71,703.1Z M231.43,703.1L231.43,708.08L235.23,708.08L235.23,711.89L237.77,711.89L237.77,708.08L239.89,708.08L239.89,703.1Z M243.27,703.1L243.27,710.2L247.93,710.2L247.93,719.29L250.47,719.29L250.47,710.2L253.85,710.2L253.85,720.78L256.39,720.78L256.39,718.66L258.5,718.66L258.5,712.31L262.74,712.31L262.74,769.01L265.91,769.01L265.91,708.08L268.66,708.08L268.66,703.1Z M272.26,703.1L272.26,706.39L278.6,706.39L278.6,704.91L281.78,704.91L281.78,703.1Z M282.83,703.1L282.83,716.12L286.01,716.12L286.01,716.12L288.12,716.12L288.12,708.08L289.17,708.08L289.17,703.1Z M305.04,703.1L305.04,709.14L307.16,709.14L307.16,714.43L308.64,714.43L308.64,745.74L310.96,745.74L310.96,711.26L312.87,711.26L312.87,703.1Z M315.19,703.1L315.19,717.6L317.31,717.6L317.31,727.54L318.58,727.54L318.58,731.14L320.91,731.14L320.91,713.37L323.02,713.37L323.02,708.08L325.77,708.08L325.77,712.31L328.31,712.31L328.31,717.6L330,717.6L330,742.99L332.54,742.99L332.54,730.3L335.08,730.3L335.08,739.81L336.77,739.81L336.77,735.58L338.89,735.58L338.89,730.3L341,730.3L341,745.74L343.54,745.74L343.54,740.24L347.35,740.24L347.35,703.1Z M351.16,703.1L351.16,707.66L360.04,707.66L360.04,711.89L363.85,711.89L363.85,714.43L367.45,714.43L367.45,703.1Z M370.2,703.1L370.2,716.12L372.74,716.12L372.74,710.62L379.08,710.62L379.08,711.89L382.26,711.89L382.26,708.08L383.74,708.08L383.74,703.1Z M391.35,703.1L391.35,719.08L393.89,719.08L393.89,726.06L396.01,726.06L396.01,726.93L397.15,726.93L397.15,717.7L402.46,717.7L402.46,716.08L404.77,716.08L404.77,703.1Z M408.69,703.1L408.69,770.78L411.69,770.78L411.69,703.1Z M413.31,703.1L413.31,706.16L419.08,706.16L419.08,705.47L420.92,705.47L420.92,703.1Z M421.85,703.1L421.85,707.31L423.23,707.31L423.23,703.1Z M425.54,703.1L425.54,709.62L427.16,709.62L427.16,707.31L429.46,707.31L429.46,703.1Z M438.7,703.1L438.7,711.47L440.31,711.47L440.31,703.1Z M446.31,703.1L446.31,708.47L447.93,708.47L447.93,703.1Z M450.23,703.1L450.23,709.62L451.85,709.62L451.85,754.63L456,754.63L456,703.1Z M463.39,703.1L463.39,707.78L467.54,707.78L467.54,703.1Z M474.47,703.1L474.47,741.93L477.24,741.93L477.24,707.31L484.85,707.31L484.85,713.08L486.47,713.08L486.47,707.31L495.24,707.31L495.24,713.78L498.7,713.78L498.7,703.1Z M502.62,703.1L502.62,708.47L504.47,708.47L504.47,703.1Z M506.32,703.1L506.32,720.01L508.62,720.01L508.62,703.1Z"/>
<line x1="106.7" y1="615" x2="106.7" y2="784" class="g"/>
<line x1="143.8" y1="615" x2="143.8" y2="784" class="g"/>
<line x1="174.2" y1="615" x2="174.2" y2="784" class="g"/>
<line x1="203.2" y1="615" x2="203.2" y2="784" class="g"/>
<line x1="231.2" y1="615" x2="231.2" y2="784" class="g"/>
<line x1="257.2" y1="615" x2="257.2" y2="784" class="g"/>
<line x1="281.2" y1="615" x2="281.2" y2="784" class="g"/>
<line x1="304.3" y1="615" x2="304.3" y2="784" class="g"/>
<line x1="325.6" y1="615" x2="325.6" y2="784" class="g"/>
<line x1="346.2" y1="615" x2="346.2" y2="784" class="g"/>
<line x1="367.1" y1="615" x2="367.1" y2="784" class="g"/>
<line x1="388" y1="615" x2="388" y2="784" class="g"/>
<line x1="404.6" y1="615" x2="404.6" y2="784" class="g"/>
<line x1="421.5" y1="615" x2="421.5" y2="784" class="g"/>
<line x1="436.8" y1="615" x2="436.8" y2="784" class="g"/>
<line x1="450.5" y1="615" x2="450.5" y2="784" class="g"/>
<line x1="462.3" y1="615" x2="462.3" y2="784" class="g"/>
<line x1="474" y1="615" x2="474" y2="784" class="g"/>
<line x1="482.8" y1="615" x2="482.8" y2="784" class="g"/>
<line x1="493.3" y1="615" x2="493.3" y2="784" class="g"/>
<line x1="500.3" y1="615" x2="500.3" y2="784" class="g"/>
<line x1="508.1" y1="615" x2="508.1" y2="784" class="g"/>
<rect x="70.5" y="701.5" width="438.2" height="0.8" fill="#c51630"/>
<rect x="68.5" y="702.3" width="440.2" height="1.6" fill="#000"/>
<line x1="69.0" y1="621.3" x2="69.0" y2="784.25" stroke="#111" stroke-width="1.5"/>
<line x1="62.3" y1="621.8" x2="69" y2="621.8" stroke="#111" stroke-width="1.1"/>
<text transform="translate(59.8 625.1) scale(0.92 1)" class="tk">100</text>
<line x1="62.3" y1="641.5" x2="69" y2="641.5" stroke="#111" stroke-width="1.1"/>
<text transform="translate(59.8 644.8) scale(0.92 1)" class="tk">75</text>
<line x1="62.3" y1="661.5" x2="69" y2="661.5" stroke="#111" stroke-width="1.1"/>
<text transform="translate(59.8 664.8) scale(0.92 1)" class="tk">50</text>
<line x1="62.3" y1="682.8" x2="69" y2="682.8" stroke="#111" stroke-width="1.1"/>
<text transform="translate(59.8 686.1) scale(0.92 1)" class="tk">25</text>
<line x1="62.3" y1="703.1" x2="69" y2="703.1" stroke="#111" stroke-width="1.1"/>
<text transform="translate(59.8 708) scale(0.92 1)" class="tk">0</text>
<line x1="62.3" y1="723.4" x2="69" y2="723.4" stroke="#111" stroke-width="1.1"/>
<text transform="translate(59.8 728.3) scale(0.92 1)" class="tk">25</text>
<line x1="62.3" y1="743.4" x2="69" y2="743.4" stroke="#111" stroke-width="1.1"/>
<text transform="translate(59.8 748.3) scale(0.92 1)" class="tk">50</text>
<line x1="62.3" y1="764.3" x2="69" y2="764.3" stroke="#111" stroke-width="1.1"/>
<text transform="translate(59.8 769.2) scale(0.92 1)" class="tk">75</text>
<line x1="62.3" y1="783.75" x2="69" y2="783.75" stroke="#111" stroke-width="1.1"/>
<text transform="translate(59.8 787.15) scale(0.92 1)" class="tk">100</text>
<text x="25.8" y="617.4" class="pl">D</text>
<text x="0" y="0" transform="translate(18.4 512) rotate(-90)" font-size="12.3" textLength="201" lengthAdjust="spacingAndGlyphs">Percentage of patients with copy number alteration</text>
<text x="281.3" y="34.7" class="ann" textLength="20.7" lengthAdjust="spacingAndGlyphs">MYC</text>
<line x1="290.7" y1="40.4" x2="299" y2="48" stroke="#111" stroke-width="0.8"/>
<path d="M301.3,50 L296.6,47.7 L298.9,45.3 Z" fill="#111"/>
<text x="442" y="14.7" class="ann" text-anchor="middle" textLength="27" lengthAdjust="spacingAndGlyphs">STAT3</text>
<text x="442" y="24.4" class="ann" text-anchor="middle" textLength="42.8" lengthAdjust="spacingAndGlyphs">STAT5A/B</text>
<line x1="447.7" y1="31.2" x2="456.2" y2="42.5" stroke="#111" stroke-width="0.8"/>
<path d="M457.8,44.7 L453.5,41.6 L456.3,39.6 Z" fill="#111"/>
<line x1="68.3" y1="784.2" x2="509.5" y2="784.2" stroke="#111" stroke-width="1.5"/>
<g class="cl">
<text transform="translate(86.5 796.7) scale(0.92 1)">1</text>
<text transform="translate(126.6 796.7) scale(0.92 1)">2</text>
<text transform="translate(158.5 796.7) scale(0.92 1)">3</text>
<text transform="translate(187.3 796.7) scale(0.92 1)">4</text>
<text transform="translate(219.5 796.7) scale(0.92 1)">5</text>
<text transform="translate(246.25 796.7) scale(0.92 1)">6</text>
<text transform="translate(270.25 796.7) scale(0.92 1)">7</text>
<text transform="translate(293.75 796.7) scale(0.92 1)">8</text>
<text transform="translate(315.25 796.7) scale(0.92 1)">9</text>
<text transform="translate(337 796.7) scale(0.92 1)">10</text>
<text transform="translate(356.9 796.7) scale(0.92 1)">11</text>
<text transform="translate(377.75 796.7) scale(0.92 1)">12</text>
<text transform="translate(397.25 796.7) scale(0.92 1)">13</text>
<text transform="translate(413.75 796.7) scale(0.92 1)">14</text>
<text transform="translate(430 796.7) scale(0.92 1)">15</text>
<text transform="translate(444.6 796.7) scale(0.92 1)">16</text>
<text transform="translate(457 796.7) scale(0.92 1)" textLength="10.43" lengthAdjust="spacingAndGlyphs">17</text>
<text transform="translate(467.7 796.7) scale(0.92 1)" textLength="10.87" lengthAdjust="spacingAndGlyphs">18</text>
<text transform="translate(476.9 796.7) scale(0.92 1)" textLength="10.87" lengthAdjust="spacingAndGlyphs">19</text>
<text transform="translate(486.9 796.7) scale(0.92 1)" textLength="10.87" lengthAdjust="spacingAndGlyphs">20</text>
<text transform="translate(496.2 796.7) scale(0.92 1)" textLength="9.35" lengthAdjust="spacingAndGlyphs">21</text>
<text transform="translate(505.8 796.7) scale(0.92 1)">22</text>
</g>
<text x="266" y="814.2" font-size="11.4" text-anchor="middle" textLength="73.2" lengthAdjust="spacingAndGlyphs">Chromosomes</text>
<g class="ann">
<text x="73.3" y="751.0" textLength="34.2" lengthAdjust="spacingAndGlyphs">ARID1A</text>
<text x="110.6" y="738.0" textLength="40.7" lengthAdjust="spacingAndGlyphs">DNMT3A</text>
<text x="218.1" y="739.3" textLength="37.2" lengthAdjust="spacingAndGlyphs">TNFAIP3</text>
<text x="275.8" y="767.6" textLength="38.7" lengthAdjust="spacingAndGlyphs">CDKN2A</text>
<text x="317.1" y="764.9" textLength="21.3" lengthAdjust="spacingAndGlyphs">ZEB1</text>
<text x="341.5" y="768.2" textLength="23.4" lengthAdjust="spacingAndGlyphs">PTEN</text>
<text x="345" y="776.4" textLength="16.1" lengthAdjust="spacingAndGlyphs">FAS</text>
<text x="444.9" y="777.1" textLength="21.5" lengthAdjust="spacingAndGlyphs">TP53</text>
<text x="478.5" y="771.4" textLength="22.2" lengthAdjust="spacingAndGlyphs">TCF3</text>
</g>
<g stroke="#111" stroke-width="0.8">
<line x1="79.1" y1="742.7" x2="74.6" y2="728"/>
<line x1="117.5" y1="729.8" x2="113" y2="719.3"/>
<line x1="245.2" y1="731.5" x2="247.7" y2="722"/>
<line x1="306.9" y1="759" x2="309" y2="749.5"/>
<line x1="327.3" y1="757.1" x2="329.6" y2="746.2"/>
<line x1="345.6" y1="758.5" x2="343.2" y2="748.9"/>
<line x1="454.2" y1="768.8" x2="454.2" y2="758.5"/>
<line x1="483.1" y1="763.5" x2="477" y2="746.5"/>
</g>
<path d="M74.10,726.00 L76.36,728.66 L73.68,729.47 Z" fill="#111"/>
<path d="M112.20,717.30 L114.74,719.70 L112.16,720.79 Z" fill="#111"/>
<path d="M248.10,720.00 L248.68,723.45 L245.96,722.76 Z" fill="#111"/>
<path d="M309.40,747.50 L310.09,750.92 L307.35,750.33 Z" fill="#111"/>
<path d="M330.00,744.20 L330.71,747.62 L327.97,747.05 Z" fill="#111"/>
<path d="M342.70,746.90 L344.83,749.66 L342.12,750.34 Z" fill="#111"/>
<path d="M454.20,756.50 L455.60,759.70 L452.80,759.70 Z" fill="#111"/>
<path d="M476.20,744.50 L478.61,747.03 L475.98,747.99 Z" fill="#111"/>
<path fill="#115386" d="M70.3,509.7 L77,509.7 L77,511.7 L76.3,511.7 L75,552.7 L73.2,552.7 L71.3,511.7 L70.3,511.7 Z"/>

<rect x="0" y="0" width="1.1" height="824" fill="#000"/><rect x="0" y="0" width="520" height="1.1" fill="#000"/><rect x="518.7" y="0" width="1.3" height="824" fill="#000"/><rect x="0" y="822.6" width="520" height="1.4" fill="#000"/>
</svg>
</body></html>
